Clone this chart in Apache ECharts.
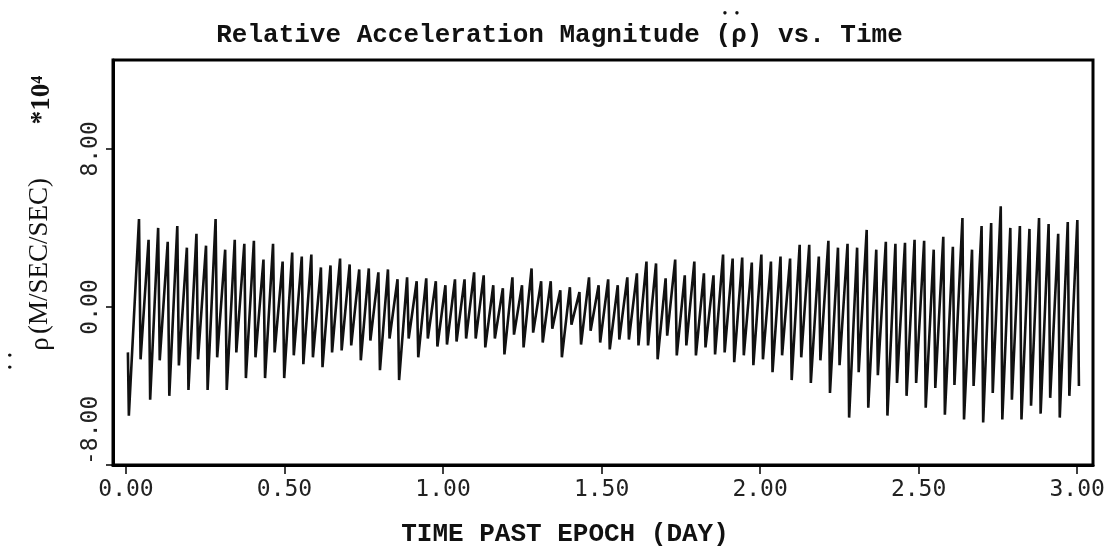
<!DOCTYPE html>
<html>
<head>
<meta charset="utf-8">
<script src="https://cdn.jsdelivr.net/npm/echarts@6/dist/echarts.min.js"></script>
<style>
html, body { margin: 0; padding: 0; background: #fff; }
#chart { width: 1119px; height: 557px; }
</style>
</head>
<body>
<div id="chart"></div>
<script>
// peak / trough of every oscillation (units of 1e-4 m/s^2)
var startValue = -2.3;
var firstTrough = -5.5;
var peaks = [
    4.45, 3.4, 4.0, 3.3, 4.1, 3.0, 3.7, 3.1, 4.45, 2.9, 3.4, 3.2, 3.35, 2.4, 3.2, 2.3, 2.75, 2.55, 2.65, 2.0, 2.1, 2.45,
    2.15, 1.9, 1.95, 1.75, 1.9, 1.4, 1.5, 1.3, 1.45, 1.3, 1.1, 1.4, 1.4, 1.75, 1.6, 1.1, 0.95, 1.5, 1.1, 1.95, 1.3, 1.3, 0.85, 1.0,
    0.75, 1.5, 1.1, 1.4, 1.1, 1.5, 1.7, 2.3, 2.2, 1.45, 2.4, 1.6, 2.3, 1.7, 1.6, 2.65, 2.45, 2.5, 2.25, 2.65, 2.3, 2.55, 2.45, 3.15,
    3.15, 2.55, 3.35, 3.0, 3.2, 3.0, 3.9, 2.9, 3.3, 3.2, 3.25, 3.4, 3.35, 2.9, 3.55, 3.05, 4.5, 2.9, 4.1, 4.25, 5.1, 4.0, 4.1, 3.95,
    4.5, 4.2, 3.7, 4.3, 4.4
];
var troughs = [
    -2.65, -4.7, -2.7, -4.5, -2.96, -4.2, -2.65, -4.2, -2.55, -4.2, -2.3, -3.6, -2.55, -3.6, -2.3, -3.6, -2.45, -2.9, -2.55, -3.05, -2.3,
    -2.2, -1.95, -2.7, -1.7, -3.2, -1.6, -3.7, -1.6, -2.55, -1.6, -2.0, -1.9, -1.75, -1.6, -1.6, -2.05, -1.6, -2.4, -1.4, -2.05, -1.3, -1.8, -1.1, -2.55, -0.9,
    -1.9, -1.2, -1.8, -2.15, -1.65, -1.65, -1.95, -1.95, -2.65, -1.45, -2.45, -1.95, -2.45, -2.05, -2.4, -2.3, -2.8, -2.45, -2.95, -2.65, -3.3, -2.45, -3.7, -2.55,
    -3.85, -2.7, -4.35, -2.95, -5.6, -3.3, -5.1, -3.45, -5.5, -3.85, -4.5, -3.85, -5.1, -4.1, -5.45, -3.95, -5.7, -4.0, -5.85, -4.35, -5.7, -4.7, -5.7, -5.0,
    -5.4, -4.6, -5.6, -4.5, -4.0
];
// time of first peak and spacing between oscillations (day)
var tStart = 0.006;
var tFirstPeak = 0.041;
var tStep = 0.0302;
var tDrop = 0.005;

var xTicks = [0, 0.5, 1.0, 1.5, 2.0, 2.5, 3.0];
var yTicks = [-8, 0, 8];

var data = [[tStart, startValue], [tStart + 0.003, firstTrough]];
for (var i = 0; i < peaks.length; i++) {
    var t = tFirstPeak + i * tStep;
    data.push([t, peaks[i]]);
    data.push([t + tDrop, troughs[i]]);
}

var chart = echarts.init(document.getElementById('chart'));
var mono = '"DejaVu Sans Mono", monospace';
var courier = '"Liberation Mono", monospace';
var serif = '"Liberation Serif", "DejaVu Serif", serif';

var option = {
    animation: false,
    backgroundColor: '#fff',
    title: {
        text: 'Relative Acceleration Magnitude (ρ) vs. Time',
        left: 'center',
        top: 17,
        textStyle: {
            fontFamily: courier,
            fontSize: 26,
            fontWeight: 'bold',
            color: '#111'
        }
    },
    grid: {
        left: 113,
        right: 26,
        top: 60,
        bottom: 92,
        show: true,
        borderColor: '#000',
        borderWidth: 3
    },
    graphic: [
        // the two dots over rho in the title
        {
            type: 'text', x: 731, y: 14,
            style: { text: '•  •', font: '14px ' + serif, fill: '#111', align: 'center', verticalAlign: 'middle' }
        },
        // y axis name, written upwards
        {
            type: 'text', x: 11, y: 361, rotation: Math.PI / 2,
            style: { text: '•  •', font: '14px ' + serif, fill: '#111', align: 'center', verticalAlign: 'middle' }
        },
        {
            type: 'text', x: 41, y: 344, rotation: Math.PI / 2,
            style: { text: 'ρ', font: '27px ' + serif, fill: '#111', align: 'center', verticalAlign: 'middle' }
        },
        {
            type: 'text', x: 40, y: 256, rotation: Math.PI / 2,
            style: { text: '(M/SEC/SEC)', font: '27px ' + serif, fill: '#111', align: 'center', verticalAlign: 'middle' }
        },
        {
            type: 'text', x: 42, y: 100, rotation: Math.PI / 2,
            style: { text: '*10⁴', font: 'bold 27px ' + serif, fill: '#111', align: 'center', verticalAlign: 'middle' }
        },
        {
            type: 'text', x: 565, y: 534,
            style: { text: 'TIME PAST EPOCH (DAY)', font: 'bold 26px ' + courier, fill: '#111', align: 'center', verticalAlign: 'middle' }
        }
    ],
    xAxis: {
        type: 'value',
        min: -0.041,
        max: 3.05,
        axisLine: { onZero: false, lineStyle: { color: '#000', width: 3 } },
        axisTick: { show: true, length: 9, customValues: xTicks, lineStyle: { color: '#000', width: 1.5 } },
        axisLabel: {
            customValues: xTicks,
            margin: 14,
            fontFamily: mono,
            fontSize: 23,
            color: '#222',
            formatter: function (v) { return v.toFixed(2); }
        },
        splitLine: { show: false }
    },
    yAxis: {
        type: 'value',
        min: -8,
        max: 12.5,
        axisLine: { show: true, onZero: false, lineStyle: { color: '#000', width: 3 } },
        axisTick: { show: true, length: 7, customValues: yTicks, lineStyle: { color: '#000', width: 1.5 } },
        axisLabel: {
            customValues: yTicks,
            rotate: 90,
            margin: 10,
            alignMinLabel: 'left',
            fontFamily: mono,
            fontSize: 23,
            color: '#222',
            formatter: function (v) { return v.toFixed(2); }
        },
        splitLine: { show: false }
    },
    series: [{
        type: 'line',
        data: data,
        showSymbol: false,
        lineStyle: { color: '#111', width: 2.6 }
    }]
};
chart.setOption(option);
</script>
</body>
</html>
